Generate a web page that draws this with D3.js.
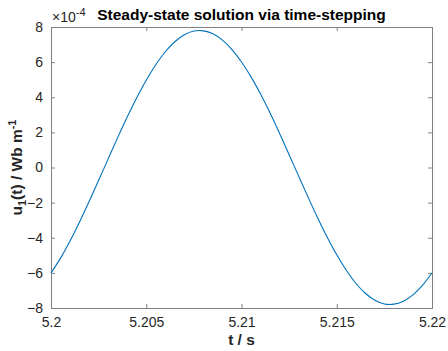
<!DOCTYPE html>
<html>
<head>
<meta charset="utf-8">
<script src="https://cdnjs.cloudflare.com/ajax/libs/d3/7.8.5/d3.min.js"></script>
<style>
  body { margin: 0; background: #fff; }
  text { font-family: "Liberation Sans", Arial, sans-serif; }
</style>
</head>
<body>
<div id="chart"></div>
<script>
// time samples (s) and u1 values (in units of 1e-4 Wb/m)
var times = [5.2, 5.2005, 5.201, 5.2015, 5.202, 5.2025, 5.203, 5.2035, 5.204, 5.2045,
             5.205, 5.2055, 5.206, 5.2065, 5.207, 5.2075, 5.208, 5.2085, 5.209, 5.2095,
             5.21, 5.2105, 5.211, 5.2115, 5.212, 5.2125, 5.213, 5.2135, 5.214, 5.2145,
             5.215, 5.2155, 5.216, 5.2165, 5.217, 5.2175, 5.218, 5.2185, 5.219, 5.2195, 5.22];
var u1 = [-6.01, -5.16, -4.18, -3.10, -1.94, -0.73, 0.49, 1.70, 2.87, 3.97,
          4.97, 5.85, 6.59, 7.16, 7.56, 7.77, 7.78, 7.61, 7.25, 6.71,
          6.01, 5.16, 4.18, 3.10, 1.94, 0.73, -0.49, -1.70, -2.87, -3.97,
          -4.97, -5.85, -6.59, -7.16, -7.56, -7.77, -7.78, -7.61, -7.25, -6.71, -6.01];
var xTicks = [5.2, 5.205, 5.21, 5.215, 5.22];
var yTicks = [-8, -6, -4, -2, 0, 2, 4, 6, 8];

var width = 448, height = 351;
var plotLeft = 51, plotRight = 432, plotTop = 27, plotBottom = 308;
var axisColor = "#808080", textColor = "#262626";

var x = d3.scaleLinear().domain([5.2, 5.22]).range([plotLeft, plotRight]);
var y = d3.scaleLinear().domain([-8, 8]).range([plotBottom, plotTop]);

var svg = d3.select("#chart").append("svg")
    .attr("width", width)
    .attr("height", height);

// axes (MATLAB-like box with inward ticks)
svg.append("g")
    .attr("transform", "translate(0," + plotBottom + ")")
    .call(d3.axisBottom(x).tickValues(xTicks).tickSize(-4).tickPadding(9)
          .tickFormat(function (d) { return String(+d.toFixed(3)); }));
svg.append("g")
    .attr("transform", "translate(0," + plotTop + ")")
    .call(d3.axisTop(x).tickValues(xTicks).tickSize(-4).tickFormat(""));
svg.append("g")
    .attr("transform", "translate(" + plotLeft + ",0)")
    .call(d3.axisLeft(y).tickValues(yTicks).tickSize(-4).tickPadding(8));
svg.append("g")
    .attr("transform", "translate(" + plotRight + ",0)")
    .call(d3.axisRight(y).tickValues(yTicks).tickSize(-4).tickFormat(""));

svg.selectAll(".domain").attr("stroke", axisColor).attr("stroke-width", 1);
svg.selectAll(".tick line").attr("stroke", axisColor).attr("stroke-width", 1);
svg.selectAll(".tick text")
    .attr("fill", textColor)
    .style("font-size", "14px")
    .style("font-family", "Liberation Sans, Arial, sans-serif");

// the curve
var line = d3.line()
    .x(function (d, i) { return x(times[i]); })
    .y(function (d) { return y(d); })
    .curve(d3.curveCatmullRom);
svg.append("path")
    .datum(u1)
    .attr("d", line)
    .attr("fill", "none")
    .attr("stroke", "#0072BD")
    .attr("stroke-width", 1.1);

// exponent label
var ex = svg.append("text")
    .attr("x", 52)
    .attr("y", 22)
    .attr("fill", textColor)
    .style("font-size", "14px");
ex.append("tspan").text("\u00D710");
ex.append("tspan").attr("dy", -6).style("font-size", "11px").text("-4");

// title
svg.append("text")
    .attr("x", (plotLeft + plotRight) / 2)
    .attr("y", 20)
    .attr("text-anchor", "middle")
    .style("font-weight", "bold")
    .style("font-size", "15.5px")
    .attr("fill", "#000")
    .text("Steady-state solution via time-stepping");

// x label
svg.append("text")
    .attr("x", (plotLeft + plotRight) / 2)
    .attr("y", 345)
    .attr("text-anchor", "middle")
    .style("font-weight", "bold")
    .style("font-size", "15.5px")
    .attr("fill", textColor)
    .text("t / s");

// y label
var yl = svg.append("text")
    .attr("transform", "translate(22," + (plotTop + plotBottom) / 2 + ") rotate(-90)")
    .attr("text-anchor", "middle")
    .style("font-weight", "bold")
    .style("font-size", "15.5px")
    .attr("fill", textColor);
yl.append("tspan").text("u");
yl.append("tspan").attr("dy", 4).style("font-size", "11px").text("1");
yl.append("tspan").attr("dy", -4).text("(t) / Wb m");
yl.append("tspan").attr("dy", -6).style("font-size", "11px").text("-1");
</script>
</body>
</html>
